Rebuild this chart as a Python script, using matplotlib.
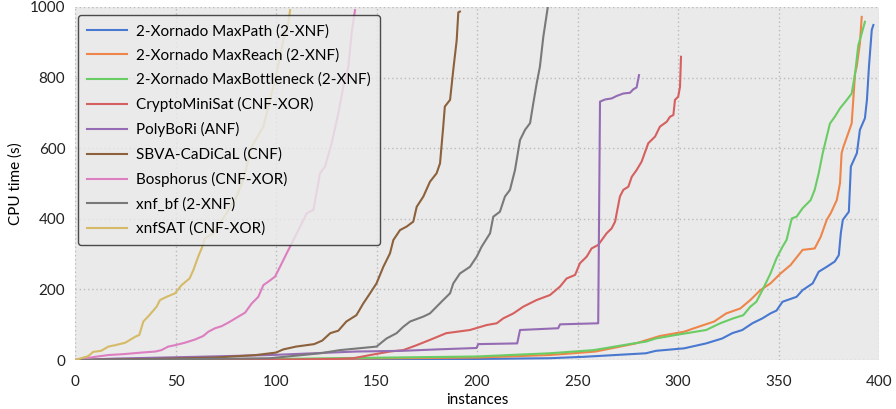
import matplotlib
matplotlib.use("Agg")
import matplotlib.pyplot as plt

plt.rcParams['font.family'] = ['Lato', 'DejaVu Sans']

labels = ["2-Xornado MaxPath (2-XNF)", "2-Xornado MaxReach (2-XNF)",
          "2-Xornado MaxBottleneck (2-XNF)", "CryptoMiniSat (CNF-XOR)",
          "PolyBoRi (ANF)", "SBVA-CaDiCaL (CNF)", "Bosphorus (CNF-XOR)",
          "xnf_bf (2-XNF)", "xnfSAT (CNF-XOR)"]
colors = ["#4878D0", "#EE854A", "#6ACC64", "#D65F5F", "#956CB4",
          "#8C613C", "#DC7EC0", "#797979", "#D5BB67"]

maxpath_x = [0, 100, 200, 236, 253, 284, 289, 303, 314, 322, 327, 332, 337, 342, 346, 349, 352, 359, 362, 367, 370, 374, 378, 380, 381, 382, 385, 386, 389, 390.5, 393, 394, 395, 396.4, 397.2]
maxpath_y = [0, 1, 3, 5, 9, 19, 26, 33, 47, 61, 76, 85, 104, 118, 132, 140, 165, 179, 198, 217, 250, 264, 279, 297, 359, 397, 420, 548, 586, 652, 685, 737, 831, 935, 949]

maxreach_x = [0, 100, 200, 236, 259, 279, 291, 303, 308, 318, 324, 331, 336, 341, 346, 351, 356, 362, 368, 371, 374, 376, 379, 380.6, 381.4, 382.3, 386.4, 387.2, 388.1, 388.9, 390.5, 391.4]
maxreach_y = [0, 2, 7, 14, 24, 47, 68, 80, 90, 109, 132, 146, 170, 198, 217, 245, 269, 312, 316, 349, 397, 416, 453, 501, 586, 604, 670, 737, 812, 831, 897, 972]

maxbott_x = [0, 100, 200, 236, 258, 278, 284, 289, 299, 314, 321, 327.5, 332.5, 336, 339, 342, 346, 349, 352, 354, 356.6, 359, 362, 366, 368, 370, 372, 374, 375.6, 378, 380.6, 384, 386.4, 388.1, 389.7, 391.4, 393]
maxbott_y = [0, 3, 10, 19, 28, 47, 52, 61, 71, 85, 104, 118, 127, 151, 165, 198, 245, 288, 321, 340, 401, 406, 430, 453, 482, 529, 586, 633, 670, 689, 713, 737, 755, 812, 892, 925, 958]

cms_x = [0, 60, 100, 130, 138.5, 146.8, 156.7, 163.3, 170, 176.6, 184.7, 196.5, 204.8, 209.8, 213.1, 218.1, 223, 229.7, 236.3, 241.3, 244.6, 248.8, 251.2, 254.6, 257, 260.3, 264.5, 267, 268.7, 271.1, 272.8, 275.3, 277, 279.4, 281.9, 285.2, 288.6, 291, 294.4, 296, 297.7, 298.5, 300.1, 301, 301.5]
cms_y = [0, 0.5, 1, 3, 5, 14, 24, 28, 42, 57, 76, 85, 99, 104, 118, 132, 151, 170, 184, 208, 231, 241, 274, 293, 316, 326, 359, 373, 392, 463, 482, 491, 519, 538, 562, 614, 633, 661, 675, 689, 694, 737, 746, 774, 859]

poly_x = [0, 20, 60, 97, 140, 163, 180, 199.8, 200.6, 220, 221.4, 240.4, 241.3, 260.3, 261.2, 263.7, 267, 269.5, 272.8, 276.1, 277.8, 279.4, 280.6]
poly_y = [0, 4, 9, 14, 24, 26, 30, 34, 45, 47, 85, 90, 101, 104, 732, 738, 741, 748, 755, 757, 767, 772, 807]

sbva_x = [0, 40, 70, 90, 100, 103.6, 110, 119, 123, 127, 131, 135, 140, 143.4, 146.8, 150, 153.4, 156.7, 158.4, 161.7, 165, 168.3, 170, 173.3, 176.6, 179.9, 181.6, 183.2, 184, 186.6, 188.2, 189.9, 190.7, 191.5]
sbva_y = [0, 3, 7, 14, 21, 30, 38, 45, 55, 76, 83, 109, 127, 160, 189, 217, 264, 302, 340, 368, 378, 392, 434, 463, 505, 529, 557, 661, 718, 737, 822, 906, 985, 987]

bos_x = [0, 10, 16.6, 25, 33, 40, 43, 46.4, 49.8, 54.7, 59.7, 63.8, 66.3, 69.7, 73, 76.3, 81.3, 84.6, 87.9, 91.2, 93.7, 96.2, 99.5, 102, 105.3, 107.8, 112, 115.3, 118.6, 121.9, 124.4, 127.7, 131, 133.5, 136, 137.6, 139.3]
bos_y = [0, 9, 14, 17, 21, 24, 28, 38, 42, 49, 58, 68, 80, 90, 96, 106, 123, 134, 160, 179, 212, 222, 236, 264, 302, 330, 378, 416, 425, 529, 548, 614, 699, 774, 831, 925, 991]

xbf_x = [0, 50, 97, 121.9, 131.8, 150, 155, 160, 163.3, 166.7, 173.3, 176.6, 179.9, 183.2, 186.6, 188.2, 191.5, 196.5, 199.9, 202.3, 206.5, 208.1, 211.4, 213.9, 216.4, 218.9, 221.4, 223.9, 226.4, 228, 229.7, 231.3, 233, 235.5]
xbf_y = [0, 2, 5, 19, 28, 38, 61, 76, 94, 109, 123, 132, 151, 170, 189, 217, 245, 264, 293, 321, 359, 406, 420, 463, 482, 538, 623, 652, 671, 727, 784, 831, 916, 1010]

xsat_x = [0, 6.6, 9, 13, 16.6, 20, 25, 30, 32, 34, 37, 40.6, 42.3, 45.6, 49.8, 53, 57, 58.9, 61.3, 63, 64.7, 68.8, 75.4, 80.4, 83.7, 87.9, 93.7, 97, 100.3, 103.6, 106, 107]
xsat_y = [0, 11, 23, 26, 38, 42, 49, 66, 71, 109, 127, 151, 170, 179, 189, 212, 231, 255, 293, 316, 345, 359, 416, 463, 510, 604, 661, 737, 812, 906, 950, 991]

series = [(maxpath_x, maxpath_y), (maxreach_x, maxreach_y), (maxbott_x, maxbott_y),
          (cms_x, cms_y), (poly_x, poly_y), (sbva_x, sbva_y), (bos_x, bos_y),
          (xbf_x, xbf_y), (xsat_x, xsat_y)]

fig = plt.figure(figsize=(8.96, 4.09), dpi=100)
ax = fig.add_axes([75/896, 49/409, 804/896, 353/409])
ax.set_facecolor("#EAEAEA")
for (xs, ys), lab, c in zip(series, labels, colors):
    ax.plot(xs, ys, color=c, lw=1.5, label=lab)

ax.set_xlim(0, 400)
ax.set_ylim(0, 1000)
ax.set_xticks([0, 50, 100, 150, 200, 250, 300, 350, 400])
ax.set_yticks([0, 200, 400, 600, 800, 1000])
ax.grid(True, color="#BBBBBB", linestyle=(0, (1, 2)), linewidth=1)
ax.set_axisbelow(True)
for s in ax.spines.values():
    s.set_visible(False)
ax.tick_params(length=0, labelsize=11, colors="#222222")
ax.tick_params(axis="x", pad=11)
ax.tick_params(axis="y", pad=7)
ax.set_xlabel("instances", fontsize=11, labelpad=3)
ax.set_ylabel("CPU time (s)", fontsize=11, labelpad=5)
leg = ax.legend(loc="upper left", fontsize=11, frameon=True, framealpha=0.8,
                facecolor="#EAEAEA", edgecolor="#222222", handlelength=2.6,
                handletextpad=0.6, bbox_to_anchor=(0.004, 0.978),
                borderaxespad=0.2, labelspacing=0.66)
leg.get_frame().set_linewidth(1.0)
leg.get_frame().set_boxstyle("round,pad=0.2,rounding_size=0.2")
fig.savefig("out.png", dpi=100)
